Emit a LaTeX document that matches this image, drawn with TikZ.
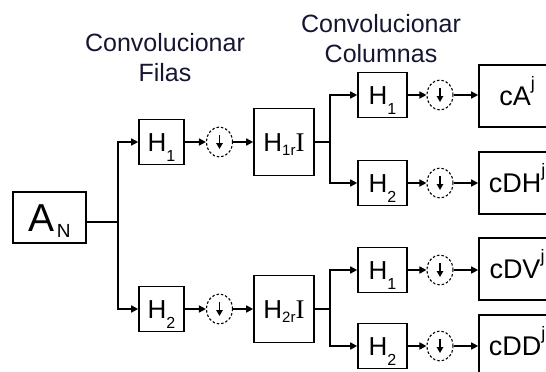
\documentclass[tikz,border=0pt]{standalone}
\usepackage{fontspec}
\setmainfont{Liberation Sans}
\newfontfamily\serifI{Liberation Serif}
\usetikzlibrary{arrows.meta,shapes.geometric}

\definecolor{headcol}{RGB}{22,22,50}

% lowered / raised indices in the block labels
\newcommand\lowidx[3]{\raisebox{-#1pt}{\fontsize{#2pt}{#2pt}\selectfont #3}}
\newcommand\highidx[1]{\raisebox{16pt}{\fontsize{18pt}{18pt}\selectfont #1}}

\tikzset{
  wire/.style={line width=1.6pt},
  arr/.style={line width=1.6pt, -{Triangle[length=7pt,width=7pt]}},
  dnarr/.style={line width=1.3pt, -{Triangle[length=6pt,width=6.5pt]}},
  blk/.style={draw, line width=1.6pt, inner sep=0pt, text depth=0pt,
    text height=18.6pt, font=\fontsize{26pt}{26pt}\selectfont},
  filtA/.style={blk, minimum width=45pt, minimum height=45pt},
  filtB/.style={blk, minimum width=49pt, minimum height=45pt},
  midbox/.style={blk, minimum width=60pt, minimum height=67pt},
  outbox/.style={blk, minimum width=76pt, minimum height=62pt,
    text height=19.3pt, font=\fontsize{27pt}{27pt}\selectfont},
  srcbox/.style={blk, minimum width=73pt, minimum height=51pt, text height=28pt},
  dsamp/.style={ellipse, draw, line width=1.1pt, dash pattern=on 2.5pt off 2pt,
    minimum width=26pt, minimum height=30pt, inner sep=0pt},
  head/.style={align=center, anchor=north, inner sep=0pt, text=headcol,
    font=\fontsize{25pt}{30pt}\selectfont},
}

\begin{document}
\begin{tikzpicture}[x=1pt, y=-1pt]
\useasboundingbox (0,0) rectangle (546,372);
\clip (0,0) rectangle (546,372);

% titles
\node[head] (t1) at (165,33.5) {Convolucionar\\Filas};
\node[head] (t2) at (381,14.5) {Convolucionar\\Columnas};

% input
\node[srcbox] (AN) at (49.5,217.5)
  {\fontsize{39pt}{39pt}\selectfont A\kern2.5pt\lowidx{6}{19}{N}};
\coordinate (s1) at (118,222);

% row filtering
\node[filtA] (H1a) at (161.5,142) {H\lowidx{10}{16}{1}};
\node[dsamp] (c1)  at (219.5,142) {};
\node[midbox] (M1) at (284,142) {H\lowidx{4}{15}{1r}{\serifI\fontsize{27pt}{27pt}\selectfont I}};

\node[filtA] (H2a) at (161.5,309) {H\lowidx{10}{16}{2}};
\node[dsamp] (c2)  at (219.5,309) {};
\node[midbox] (M2) at (284,309) {H\lowidx{4}{15}{2r}{\serifI\fontsize{27pt}{27pt}\selectfont I}};

\coordinate (s2) at (330,142);
\coordinate (s3) at (330,309);

% column filtering
\node[filtB] (H1b) at (382.5,95)  {H\lowidx{10}{16}{1}};
\node[dsamp] (c3)  at (440,95)    {};
\node[outbox] (cA) at (517,96)    {cA\highidx{j}};

\node[filtB] (H2b) at (382.5,183) {H\lowidx{10}{16}{2}};
\node[dsamp] (c4)  at (440,183)   {};
\node[outbox] (cDH) at (517,183)  {cDH\highidx{j}};

\node[filtB] (H1c) at (382.5,270) {H\lowidx{10}{16}{1}};
\node[dsamp] (c5)  at (440,270)   {};
\node[outbox] (cDV) at (517,269)  {cDV\highidx{j}};

\node[filtB] (H2c) at (382.5,346) {H\lowidx{10}{16}{2}};
\node[dsamp] (c6)  at (440,346)   {};
\node[outbox] (cDD) at (517,346)  {cDD\highidx{j}};

% arrows inside the downsampling circles
\foreach \c in {c1,c2,c3,c4,c5,c6}
  \draw[dnarr] ([yshift=7pt]\c.center) -- ([yshift=-7pt]\c.center);

% connections
\draw[wire] (AN.east |- s1) -- (s1);
\draw[arr] (s1) |- (H1a.west);
\draw[arr] (s1) |- (H2a.west);
\draw[arr] (H1a) -- (c1);
\draw[arr] (c1) -- (M1);
\draw[arr] (H2a) -- (c2);
\draw[arr] (c2) -- (M2);

\draw[wire] (M1) -- (s2);
\draw[arr] (s2) |- (H1b.west);
\draw[arr] (s2) |- (H2b.west);
\draw[wire] (M2) -- (s3);
\draw[arr] (s3) |- (H1c.west);
\draw[arr] (s3) |- (H2c.west);

\draw[arr] (H1b) -- (c3);
\draw[arr] (c3) -- (cA.west |- c3);
\draw[arr] (H2b) -- (c4);
\draw[arr] (c4) -- (cDH.west |- c4);
\draw[arr] (H1c) -- (c5);
\draw[arr] (c5) -- (cDV.west |- c5);
\draw[arr] (H2c) -- (c6);
\draw[arr] (c6) -- (cDD.west |- c6);
\end{tikzpicture}
\end{document}
